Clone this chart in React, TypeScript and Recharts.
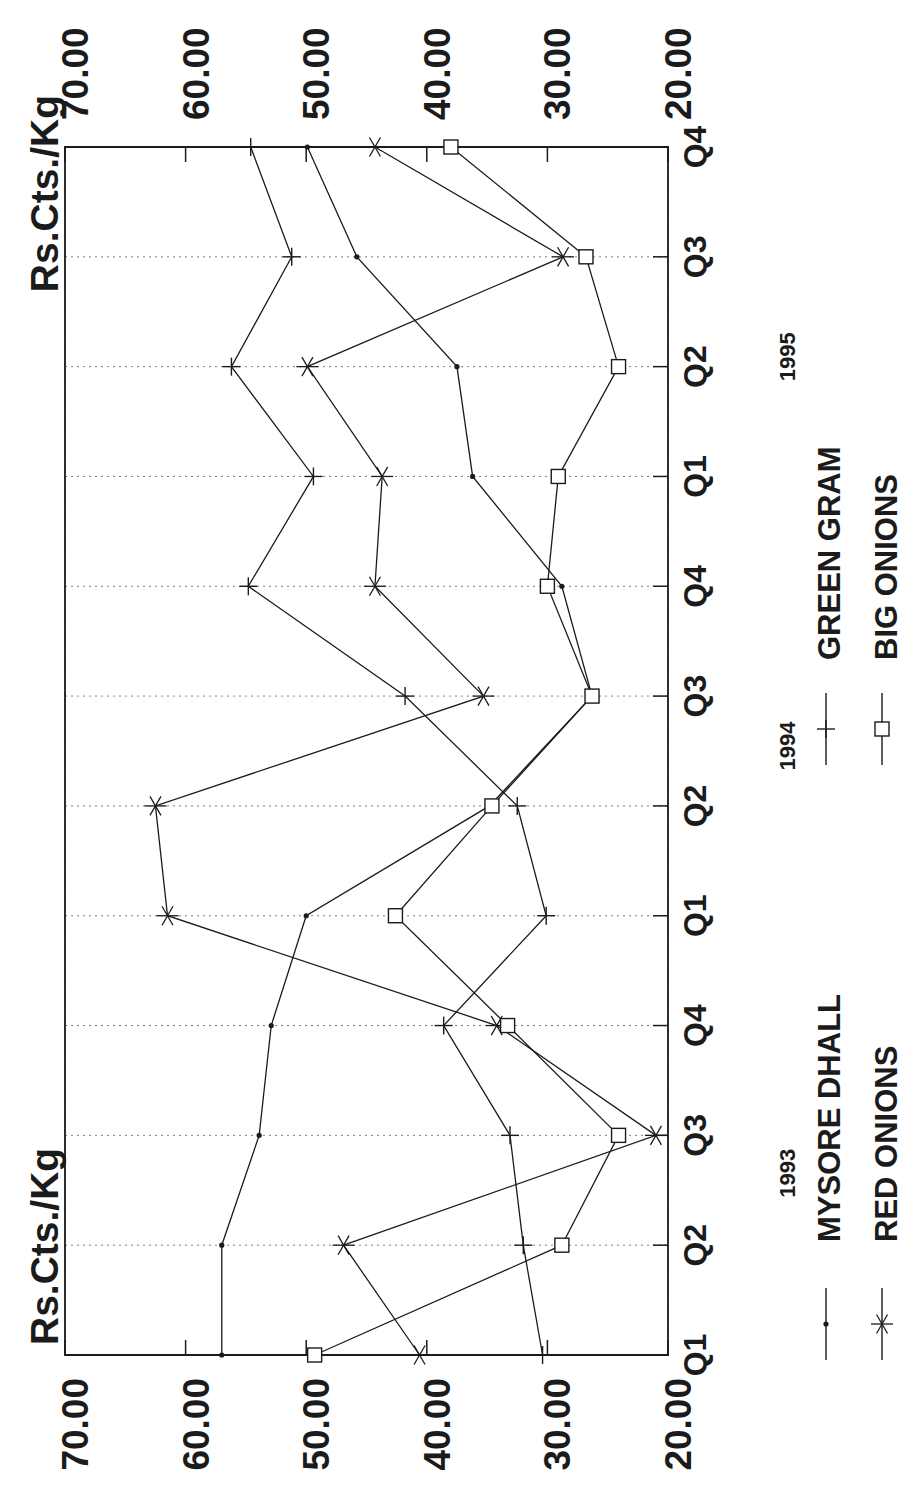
import React from "react";
import { LineChart, Line, XAxis, YAxis, CartesianGrid, ReferenceArea, Legend } from "recharts";

// the printed chart is turned a quarter-turn; we draw it upright and rotate the box
const years = ["1993", "1994", "1995"];
const quarters = ["Q1", "Q2", "Q3", "Q4"];
const valueTicks = [20, 30, 40, 50, 60, 70];

const mysoreDhall = [57.0, 57.0, 53.9, 52.9, 50.0, 34.8, 26.3, 28.8, 36.2, 37.5, 45.8, 49.9];
const greenGram = [30.4, 32.0, 33.1, 38.6, 30.1, 32.5, 41.8, 54.8, 49.4, 56.2, 51.2, 54.6];
const redOnions = [40.6, 46.9, 21.0, 34.2, 61.5, 62.5, 35.3, 44.3, 43.7, 49.9, 28.7, 44.3];
const bigOnions = [49.3, 28.8, 24.1, 33.3, 42.6, 34.6, 26.3, 30.0, 29.1, 24.1, 26.8, 38.0];

const periods = years.flatMap((y) => quarters.map((q) => `${y} ${q}`));

const data = periods.map((period, i) => ({
  period,
  mysore: mysoreDhall[i],
  green: greenGram[i],
  red: redOnions[i],
  big: bigOnions[i],
}));

// legend reads row by row: mysore, green / red, big
const series = [
  { key: "mysore", name: "MYSORE DHALL", marker: "dot", axis: "left" },
  { key: "green", name: "GREEN GRAM", marker: "plus", axis: "left" },
  { key: "red", name: "RED ONIONS", marker: "star", axis: "left" },
  { key: "big", name: "BIG ONIONS", marker: "square", axis: "right" },
];

const INK = "#1b1b1b";
const FONT = "'Liberation Sans', Arial, Helvetica, sans-serif";

// how far past the Q2 tick each year caption sits in the print
const yearShift: Record<string, number> = { "1993": 72, "1994": 60, "1995": 10 };

function Marker({ kind, cx, cy }: { kind: string; cx: number; cy: number }) {
  if (cx == null || cy == null) return null;
  if (kind === "dot") return <circle cx={cx} cy={cy} r={2.6} fill={INK} />;
  if (kind === "plus")
    return (
      <g stroke={INK} strokeWidth={1.4}>
        <line x1={cx - 9} y1={cy} x2={cx + 9} y2={cy} />
        <line x1={cx} y1={cy - 9} x2={cx} y2={cy + 9} />
      </g>
    );
  if (kind === "star") {
    const r = 11;
    return (
      <g stroke={INK} strokeWidth={1.3}>
        {[90, 30, 150].map((a) => {
          const dx = r * Math.cos((a * Math.PI) / 180);
          const dy = r * Math.sin((a * Math.PI) / 180);
          return <line key={a} x1={cx - dx} y1={cy - dy} x2={cx + dx} y2={cy + dy} />;
        })}
      </g>
    );
  }
  return <rect x={cx - 7} y={cy - 7} width={14} height={14} fill="#fff" stroke={INK} strokeWidth={1.4} />;
}

const LeftTick = ({ x, y, payload }: any) => (
  <g>
    <line x1={x} x2={x + 15} y1={y} y2={y} stroke={INK} strokeWidth={1.5} />
    <text x={x - 23} y={y + 23} textAnchor="end" fontSize={37} fontWeight="bold" fontFamily={FONT} fill={INK}>
      {Number(payload.value).toFixed(2)}
    </text>
  </g>
);

const RightTick = ({ x, y, payload }: any) => (
  <g>
    <line x1={x} x2={x - 15} y1={y} y2={y} stroke={INK} strokeWidth={1.5} />
    <text x={x + 27} y={y + 23} textAnchor="start" fontSize={37} fontWeight="bold" fontFamily={FONT} fill={INK}>
      {Number(payload.value).toFixed(2)}
    </text>
  </g>
);

const QuarterTick = ({ x, y, payload }: any) => {
  const [year, q] = String(payload.value).split(" ");
  return (
    <g>
      <line x1={x} x2={x} y1={y} y2={y - 15} stroke={INK} strokeWidth={1.5} />
      <text x={x} y={y + 38} textAnchor="middle" fontSize={32} fontWeight="bold" fontFamily={FONT} fill={INK}>
        {q}
      </text>
      {q === "Q2" && (
        <text
          x={x + (yearShift[year] ?? 55)}
          y={y + 127}
          textAnchor="middle"
          fontSize={22}
          fontWeight="bold"
          fontFamily={FONT}
          fill={INK}
        >
          {year}
        </text>
      )}
    </g>
  );
};

const TitleLeft = ({ viewBox }: any) => (
  <text x={viewBox.x + viewBox.width + 10} y={viewBox.y - 7} fontSize={39} fontWeight="bold" fontFamily={FONT} fill={INK}>
    Rs.Cts./Kg
  </text>
);

const TitleRight = ({ viewBox }: any) => (
  <text x={viewBox.x + 52} y={viewBox.y - 7} textAnchor="end" fontSize={39} fontWeight="bold" fontFamily={FONT} fill={INK}>
    Rs.Cts./Kg
  </text>
);

const LegendBox = ({ payload }: any) => (
  <svg width={1100} height={110} style={{ display: "block" }}>
    {series.map((s, i) => {
      const item = (payload || []).find((p: any) => p.dataKey === s.key);
      const col = i % 2;
      const row = Math.floor(i / 2);
      const sx = col === 0 ? 7 : 602;
      const cy = row === 0 ? 26 : 82;
      return (
        <g key={s.key}>
          <line x1={sx} x2={sx + 72} y1={cy} y2={cy} stroke={INK} strokeWidth={1.4} />
          <Marker kind={s.marker} cx={sx + 36} cy={cy} />
          <text
            x={col === 0 ? 125 : 707}
            y={row === 0 ? 40 : 97}
            fontSize={31}
            fontWeight="bold"
            fontFamily={FONT}
            fill={INK}
          >
            {item ? item.value : s.name}
          </text>
        </g>
      );
    })}
  </svg>
);

export default function App() {
  return (
    <div style={{ position: "absolute", left: 0, top: 0, width: 905, height: 1487, overflow: "hidden", background: "#fff" }}>
      <div
        style={{
          position: "absolute",
          left: 0,
          top: 0,
          width: 1487,
          height: 905,
          transformOrigin: "0 0",
          transform: "translateY(1487px) rotate(-90deg)",
        }}
      >
        <LineChart width={1487} height={905} data={data} margin={{ top: 65, right: 0, bottom: 0, left: 0 }}>
          <CartesianGrid stroke="#808080" strokeDasharray="2 4" />
          <XAxis
            dataKey="period"
            interval={0}
            height={237}
            tickSize={0}
            tickMargin={0}
            axisLine={false}
            tickLine={false}
            tick={<QuarterTick />}
            padding={{ left: 0, right: 0 }}
          />
          <YAxis
            yAxisId="left"
            type="number"
            domain={[20, 70]}
            ticks={valueTicks}
            interval={0}
            width={132}
            tickSize={0}
            tickMargin={0}
            axisLine={false}
            tickLine={false}
            tick={<LeftTick />}
            label={TitleLeft}
          />
          <YAxis
            yAxisId="right"
            orientation="right"
            type="number"
            domain={[20, 70]}
            ticks={valueTicks}
            interval={0}
            width={147}
            tickSize={0}
            tickMargin={0}
            axisLine={false}
            tickLine={false}
            tick={<RightTick />}
            label={TitleRight}
          />
          <ReferenceArea
            yAxisId="left"
            x1={periods[0]}
            x2={periods[periods.length - 1]}
            y1={20}
            y2={70}
            fill="none"
            stroke={INK}
            strokeWidth={1.8}
            ifOverflow="visible"
          />
          {series.map((s) => (
            <Line
              key={s.key}
              yAxisId={s.axis}
              dataKey={s.key}
              name={s.name}
              type="linear"
              stroke={INK}
              strokeWidth={1.3}
              isAnimationActive={false}
              activeDot={false}
              dot={(p: any) => <Marker key={`${s.key}-${p.index}`} kind={s.marker} cx={p.cx} cy={p.cy} />}
            />
          ))}
          <Legend
            layout="vertical"
            align="center"
            verticalAlign="middle"
            wrapperStyle={{ position: "absolute", left: 120, top: 800, width: 1100 }}
            content={<LegendBox />}
          />
        </LineChart>
      </div>
    </div>
  );
}
